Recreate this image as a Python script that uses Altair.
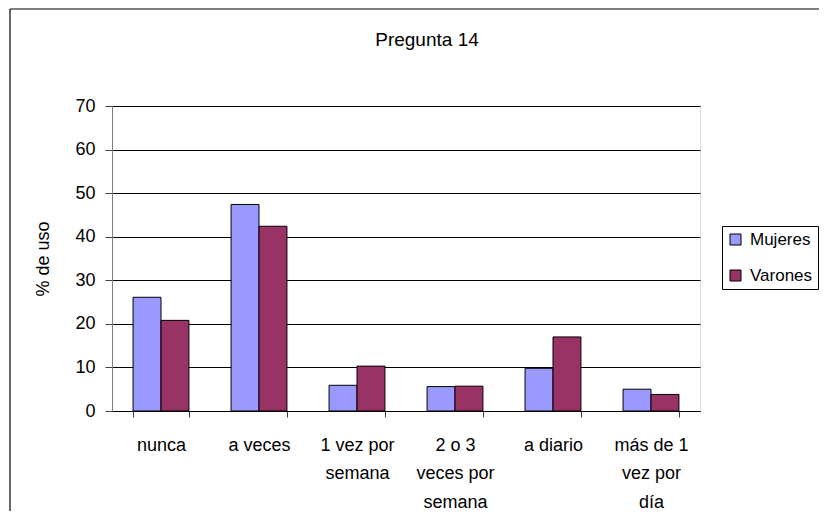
import altair as alt
import pandas as pd

title_text = "Pregunta 14"
categories = ["nunca", "a veces", "1 vez por semana", "2 o 3 veces por semana", "a diario", "más de 1 vez por día"]
tick_labels = ["nunca", "a veces", "1 vez por|semana", "2 o 3|veces por|semana", "a diario", "más de 1|vez por|día"]
series = ["Mujeres", "Varones"]
mujeres = [26.1, 47.4, 5.9, 5.6, 9.8, 5.0]
varones = [20.8, 42.4, 10.3, 5.7, 17.0, 3.8]
colors = ["#9999FF", "#993366"]
y_ticks = [0, 10, 20, 30, 40, 50, 60, 70]

rows = []
for i, c in enumerate(categories):
    rows.append({"cat": c, "serie": series[0], "val": mujeres[i]})
    rows.append({"cat": c, "serie": series[1], "val": varones[i]})
df = pd.DataFrame(rows)

cats_js = "[" + ",".join("'" + c + "'" for c in categories) + "]"
labs_js = "[" + ",".join("'" + c + "'" for c in tick_labels) + "]"
label_expr = (f"indexof({cats_js}, datum.value) < 0 ? '' : "
              f"split({labs_js}[indexof({cats_js}, datum.value)], '|')")

FONT = "Liberation Sans"

bars = alt.Chart(df).mark_bar(stroke="black", strokeWidth=1).encode(
    x=alt.X("cat:N", sort=categories,
            scale=alt.Scale(paddingInner=0.43, paddingOuter=0.215),
            axis=alt.Axis(title=None, labelAngle=0, tickBand="extent", labelExpr=label_expr,
                          labelFontSize=18, labelLineHeight=28.5, labelPadding=19,
                          labelColor="black", labelFont=FONT, tickSize=6, tickColor="#404040",
                          domainColor="black", grid=False)),
    xOffset=alt.XOffset("serie:N", sort=series, scale=alt.Scale(paddingInner=0, paddingOuter=0)),
    y=alt.Y("val:Q", scale=alt.Scale(domain=[0, 70], nice=False),
            axis=alt.Axis(values=y_ticks, title="% de uso", titleFontSize=18, titleFontWeight="normal",
                          titleFont=FONT, titleColor="black",
                          labelFontSize=18, labelFont=FONT, labelColor="black", tickSize=7, labelPadding=10,
                          tickColor="#404040", gridColor="black", gridWidth=1, domainColor="#808080",
                          titleX=-69, titleY=152.5, titleAngle=270, titleAlign="center",
                          titleBaseline="middle")),
    color=alt.Color("serie:N", sort=series, scale=alt.Scale(domain=series, range=colors),
                    legend=alt.Legend(title=None, orient="none", legendX=610, legendY=120,
                                      labelFontSize=17, labelFont=FONT, labelColor="black",
                                      symbolType="square", symbolSize=121,
                                      symbolStrokeColor="black", symbolStrokeWidth=1,
                                      strokeColor="black", fillColor="white", padding=5,
                                      rowPadding=18, labelOffset=6)),
)

one = pd.DataFrame({"t": [title_text]})
frame_left = alt.Chart(one).mark_rule(stroke="black", strokeWidth=1.2).encode(
    x=alt.value(-102), y=alt.value(-97), y2=alt.value(700)
)
frame_top = alt.Chart(one).mark_rule(stroke="black", strokeWidth=1.2).encode(
    y=alt.value(-97), x=alt.value(-102), x2=alt.value(1000)
)
title = alt.Chart(one).mark_text(font=FONT, fontSize=19, color="black", align="center",
                                 baseline="alphabetic").encode(
    text="t:N", x=alt.value(315), y=alt.value(-60)
)

chart = alt.layer(frame_left, frame_top, title, bars).properties(
    width=588, height=305,
    autosize=alt.AutoSizeParams(type="none"),
    padding={"left": 104, "top": 98, "right": 119, "bottom": 100},
).configure_view(fill="#C0C0C0", stroke="#808080", strokeWidth=1).configure(background="white")

chart.save("out.html", embed_options={"renderer": "svg", "actions": False})
